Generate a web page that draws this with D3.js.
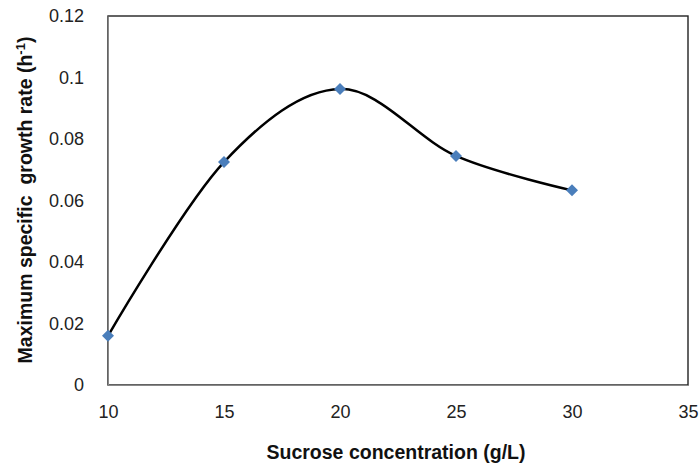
<!DOCTYPE html>
<html>
<head>
<meta charset="utf-8">
<script src="https://cdn.jsdelivr.net/npm/d3@7"></script>
<style>
  body { margin: 0; background: #fff; }
  text { font-family: "Liberation Sans", Arial, sans-serif; }
</style>
</head>
<body>
<div id="chart"></div>
<script>
// data
var sucrose = [10, 15, 20, 25, 30];
var growthRate = [0.016, 0.0725, 0.0963, 0.0745, 0.0633];
var xTicks = [10, 15, 20, 25, 30, 35];
var yTicks = [0, 0.02, 0.04, 0.06, 0.08, 0.1, 0.12];

var margin = { top: 16, right: 12, bottom: 81, left: 108 },
  width = 700 - margin.left - margin.right,
  height = 466 - margin.top - margin.bottom;

var svg = d3.select("#chart").append("svg")
  .attr("width", 700)
  .attr("height", 466)
  .append("g")
  .attr("transform", "translate(" + margin.left + "," + margin.top + ")");

var x = d3.scaleLinear().domain([10, 35]).range([0, width]);
var y = d3.scaleLinear().domain([0, 0.12]).range([height, 0]);

// plot area frame
svg.append("rect")
  .attr("width", width)
  .attr("height", height)
  .attr("fill", "none")
  .attr("stroke", "#222")
  .attr("stroke-width", 1.4);

// x axis
var xAxis = svg.append("g")
  .attr("transform", "translate(0," + height + ")")
  .call(d3.axisBottom(x).tickValues(xTicks).tickSize(0).tickPadding(20).tickFormat(d3.format("d")));
xAxis.select(".domain").attr("stroke", "#888");
xAxis.selectAll("text").attr("font-size", 18).attr("fill", "#222")
  .style("font-family", "'Liberation Sans', Arial, sans-serif");

// y axis
var yAxis = svg.append("g")
  .call(d3.axisLeft(y).tickValues(yTicks).tickSize(0).tickPadding(24)
    .tickFormat(function (d) { return d === 0 ? "0" : String(+d.toFixed(2)); }));
yAxis.select(".domain").attr("stroke", "#888");
yAxis.selectAll("text").attr("font-size", 18).attr("fill", "#222")
  .style("font-family", "'Liberation Sans', Arial, sans-serif");

// axis titles
svg.append("text")
  .attr("x", 288)
  .attr("y", height + 74)
  .style("text-anchor", "middle")
  .attr("font-size", 19.5)
  .attr("font-weight", "bold")
  .attr("fill", "#111")
  .text("Sucrose concentration (g/L)");

var yTitle = svg.append("text")
  .attr("transform", "rotate(-90)")
  .attr("x", -184)
  .attr("y", -76)
  .style("text-anchor", "middle")
  .style("white-space", "pre")
  .attr("font-size", 19.5)
  .attr("font-weight", "bold")
  .attr("fill", "#111");
yTitle.append("tspan").text("Maximum specific  growth rate (h");
yTitle.append("tspan").attr("dy", -7).attr("font-size", 13).text("-1");
yTitle.append("tspan").attr("dy", 7).text(")");

var points = sucrose.map(function (d, i) { return [d, growthRate[i]]; });

// smoothed line
var line = d3.line()
  .x(function (d) { return x(d[0]); })
  .y(function (d) { return y(d[1]); })
  .curve(d3.curveCardinal.tension(0));

svg.append("path")
  .datum(points)
  .attr("d", line)
  .attr("fill", "none")
  .attr("stroke", "#000")
  .attr("stroke-width", 2.5);

// diamond markers
svg.selectAll(".pt")
  .data(points)
  .enter().append("path")
  .attr("class", "pt")
  .attr("transform", function (d) { return "translate(" + x(d[0]) + "," + y(d[1]) + ")"; })
  .attr("d", "M0,-6L6,0L0,6L-6,0Z")
  .attr("fill", "#4a7ebb");
</script>
</body>
</html>
